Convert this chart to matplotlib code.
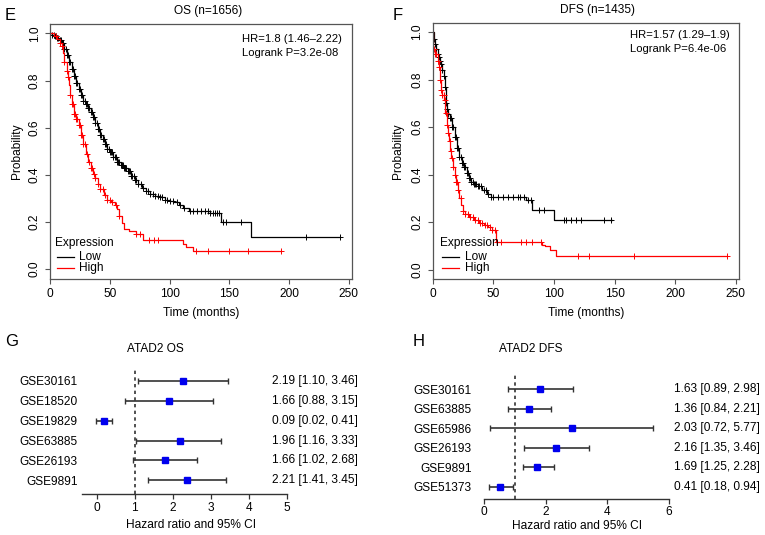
import numpy as np
import matplotlib
matplotlib.use('Agg')
import matplotlib.pyplot as plt
from matplotlib.lines import Line2D

plt.rcParams['font.family'] = ['Liberation Sans', 'DejaVu Sans']

# ---------------- DATA ----------------
# Panel E: OS (n=1656)
os_low_t = [0, 2, 4, 6, 8, 10, 12, 14, 16, 18, 20, 22, 24, 26, 28, 30, 32, 34, 36, 38, 40, 42, 44, 46,
            48, 50, 53, 56, 59, 62, 65, 68, 71, 74, 77, 80, 84, 88, 92, 96, 100, 104, 108, 111, 116,
            125, 134, 143, 168, 243]
os_low_s = [1.0, 0.995, 0.99, 0.98, 0.97, 0.96, 0.935, 0.91, 0.88, 0.85, 0.82, 0.79, 0.765, 0.74, 0.715,
            0.70, 0.685, 0.665, 0.645, 0.62, 0.595, 0.57, 0.55, 0.53, 0.51, 0.497, 0.475, 0.455, 0.44,
            0.43, 0.415, 0.395, 0.38, 0.36, 0.343, 0.33, 0.32, 0.312, 0.305, 0.295, 0.29, 0.285, 0.27,
            0.258, 0.248, 0.245, 0.238, 0.20, 0.134, 0.134]
os_low_cens = [2, 3, 4, 5, 6, 7, 8, 9, 10, 11, 12, 13, 14, 15, 16, 17, 18, 19, 20, 21, 22, 23, 24, 25, 26,
               27, 28, 29, 30, 31, 32, 33, 34, 35, 36, 37, 38, 39, 40, 41, 42, 43, 44, 45, 46, 47, 48, 49,
               50, 51, 52, 53, 54, 55, 56, 57, 58, 59, 60, 61, 62, 63, 64, 65, 66, 67, 68, 69, 70, 71, 72,
               74, 76, 78, 80, 82, 84, 86, 88, 90, 92, 94, 96, 98, 100, 103, 106, 109, 112, 117, 120, 123,
               126, 130, 132, 134, 136, 138, 140, 141, 145, 147, 160, 214, 243]
os_high_t = [0, 3, 6, 8, 10, 11, 12, 14, 15, 16, 17, 18, 20, 22, 24, 26, 28, 30, 32, 34, 36, 38, 40, 42,
             45, 48, 51, 54, 56, 58, 60, 62, 66, 72, 78, 111, 114, 120, 193]
os_high_s = [1.0, 0.99, 0.975, 0.96, 0.945, 0.915, 0.88, 0.84, 0.815, 0.78, 0.74, 0.70, 0.66, 0.635,
             0.61, 0.57, 0.53, 0.49, 0.455, 0.43, 0.405, 0.385, 0.36, 0.34, 0.315, 0.295, 0.285, 0.27,
             0.255, 0.225, 0.195, 0.17, 0.163, 0.149, 0.125, 0.106, 0.092, 0.078, 0.078]
os_high_cens = [5, 8, 10, 12, 14, 15, 17, 18, 19, 20, 21, 22, 23, 24, 25, 26, 27, 28, 29, 31, 33, 34, 35,
                37, 38, 40, 42, 44, 46, 48, 50, 52, 55, 58, 72, 75, 83, 87, 90, 122, 132, 150, 166, 193]

# Panel F: DFS (n=1435)
dfs_low_t = [0, 1, 2, 3, 4, 5, 6, 7, 8, 9, 10, 11, 12, 13, 14, 16, 18, 20, 22, 24, 26, 28, 30, 32, 34,
             37, 41, 45, 48, 77, 82, 100, 148]
dfs_low_s = [1.0, 0.97, 0.95, 0.93, 0.91, 0.895, 0.88, 0.865, 0.84, 0.815, 0.77, 0.70, 0.675, 0.655,
             0.64, 0.60, 0.56, 0.51, 0.475, 0.45, 0.43, 0.405, 0.385, 0.37, 0.36, 0.35, 0.336, 0.32,
             0.307, 0.293, 0.251, 0.209, 0.209]
dfs_low_cens = [1, 2, 3, 4, 5, 6, 7, 8, 9, 10, 11, 12, 13, 14, 15, 16, 17, 18, 19, 20, 21, 22, 23, 24,
                25, 26, 27, 28, 29, 30, 31, 32, 33, 34, 35, 36, 37, 38, 40, 42, 44, 46, 48, 50, 54, 58,
                62, 66, 70, 72, 75, 79, 81, 88, 92, 108, 110, 114, 118, 122, 141, 147]
dfs_high_t = [0, 0.3, 2, 4, 5, 6, 7, 8, 9.5, 10.5, 11.5, 12.5, 13.5, 14.5, 15.5, 17, 18, 19, 20.5, 22,
              23.5, 25, 27, 30, 34, 38, 42, 46, 49, 52, 90, 93, 97, 102, 243]
dfs_high_s = [1.0, 0.93, 0.91, 0.88, 0.855, 0.80, 0.757, 0.735, 0.715, 0.66, 0.61, 0.575, 0.54, 0.50,
              0.47, 0.43, 0.40, 0.37, 0.336, 0.30, 0.27, 0.245, 0.235, 0.223, 0.21, 0.195, 0.188, 0.178,
              0.167, 0.118, 0.105, 0.097, 0.083, 0.057, 0.057]
dfs_high_cens = [1, 2, 3, 4, 5, 6, 7, 8, 9, 10, 11, 12, 13, 14, 15, 16, 17, 18, 19, 20, 21, 23, 25, 27,
                 29, 31, 33, 35, 37, 39, 41, 43, 45, 47, 49, 51, 53, 56, 73, 77, 82, 89, 120, 129, 166, 243]

km_xticks = [0, 50, 100, 150, 200, 250]
km_yticks = [0.0, 0.2, 0.4, 0.6, 0.8, 1.0]

# Panel G: ATAD2 OS forest
g_names = ['GSE30161', 'GSE18520', 'GSE19829', 'GSE63885', 'GSE26193', 'GSE9891']
g_hr = [2.26, 1.91, 0.18, 2.18, 1.80, 2.37]
g_lo = [1.07, 0.75, -0.02, 1.04, 0.95, 1.34]
g_hi = [3.46, 3.07, 0.40, 3.26, 2.65, 3.41]
g_text = ['2.19 [1.10, 3.46]', '1.66 [0.88, 3.15]', '0.09 [0.02, 0.41]',
          '1.96 [1.16, 3.33]', '1.66 [1.02, 2.68]', '2.21 [1.41, 3.45]']
g_xticks = [0, 1, 2, 3, 4, 5]

# Panel H: ATAD2 DFS forest
h_names = ['GSE30161', 'GSE63885', 'GSE65986', 'GSE26193', 'GSE9891', 'GSE51373']
h_hr = [1.82, 1.47, 2.85, 2.33, 1.73, 0.52]
h_lo = [0.77, 0.77, 0.20, 1.30, 1.27, 0.14]
h_hi = [2.90, 2.16, 5.49, 3.40, 2.26, 0.94]
h_text = ['1.63 [0.89, 2.98]', '1.36 [0.84, 2.21]', '2.03 [0.72, 5.77]',
          '2.16 [1.35, 3.46]', '1.69 [1.25, 2.28]', '0.41 [0.18, 0.94]']
h_xticks = [0, 2, 4, 6]

# ---------------- FIGURE ----------------
W, H = 765, 535
fig = plt.figure(figsize=(W / 100, H / 100), dpi=100)
FS = 8.6
GRAY = '#555555'


def fx(x):
    return x / W


def fy(y):
    return 1 - y / H


def add_ax(l, t, r, b):
    return fig.add_axes([l / W, 1 - b / H, (r - l) / W, (b - t) / H])


def km_panel(ax, curves):
    for t, s, cens, col in curves:
        t = np.asarray(t, float)
        s = np.asarray(s, float)
        ax.step(t, s, where='post', color=col, lw=0.9)
        c = np.asarray(cens, float)
        idx = np.searchsorted(t, c, side='right') - 1
        ax.plot(c, s[idx], '+', color=col, ms=5, mew=0.7, ls='none')
    ax.set_xlim(0, 252.7)
    ax.set_ylim(-0.04, 1.04)
    ax.set_xticks(km_xticks)
    ax.set_xticklabels([str(v) for v in km_xticks], fontsize=FS)
    ax.set_yticks(km_yticks)
    ax.set_yticklabels(['%.1f' % v for v in km_yticks], rotation=90, va='center', fontsize=FS)
    for sp in ax.spines.values():
        sp.set_color(GRAY)
        sp.set_linewidth(0.9)
    ax.tick_params(direction='out', length=3.6, width=0.8, color=GRAY, pad=3)


def legend_block(x0, ytitle, ylow, yhigh):
    fig.text(fx(x0), fy(ytitle), 'Expression', ha='left', va='center', fontsize=FS)
    for yy, col, lab in [(ylow, 'black', 'Low'), (yhigh, 'red', 'High')]:
        fig.add_artist(Line2D([fx(x0 + 2), fx(x0 + 19)], [fy(yy), fy(yy)], color=col, lw=0.9,
                              transform=fig.transFigure))
        fig.text(fx(x0 + 25), fy(yy), lab, ha='left', va='center', fontsize=FS)


# Panel E
axE = add_ax(50, 24, 352, 278.5)
km_panel(axE, [(os_low_t, os_low_s, os_low_cens, 'black'),
               (os_high_t, os_high_s, os_high_cens, 'red')])
fig.text(fx(10), fy(16), 'E', fontsize=12, ha='center', va='center')
fig.text(fx(208), fy(11), 'OS (n=1656)', fontsize=FS, ha='center', va='center')
fig.text(fx(242), fy(39.5), 'HR=1.8 (1.46\u20132.22)', fontsize=8.1, ha='left', va='center')
fig.text(fx(242), fy(53.5), 'Logrank P=3.2e-08', fontsize=8.1, ha='left', va='center')
fig.text(fx(16.7), fy(151), 'Probability', rotation=90, fontsize=FS, ha='center', va='center')
fig.text(fx(201), fy(313), 'Time (months)', fontsize=FS, ha='center', va='center')
legend_block(54.5, 242.7, 256.7, 268.3)

# Panel F
axF = add_ax(432.7, 22.7, 739, 279)
km_panel(axF, [(dfs_low_t, dfs_low_s, dfs_low_cens, 'black'),
               (dfs_high_t, dfs_high_s, dfs_high_cens, 'red')])
fig.text(fx(398), fy(15), 'F', fontsize=12, ha='center', va='center')
fig.text(fx(597.5), fy(10), 'DFS (n=1435)', fontsize=FS, ha='center', va='center')
fig.text(fx(630), fy(34.5), 'HR=1.57 (1.29\u20131.9)', fontsize=8.1, ha='left', va='center')
fig.text(fx(630), fy(49.5), 'Logrank P=6.4e-06', fontsize=8.1, ha='left', va='center')
fig.text(fx(398), fy(151), 'Probability', rotation=90, fontsize=FS, ha='center', va='center')
fig.text(fx(586), fy(313), 'Time (months)', fontsize=FS, ha='center', va='center')
legend_block(440, 242.7, 256.7, 268.3)


def forest(ax, names, hr, lo, hi, texts, xlim, xticks, ylim, text_x, label_pad):
    n = len(names)
    y = np.arange(n, 0, -1)
    hr = np.asarray(hr)
    lo = np.asarray(lo)
    hi = np.asarray(hi)
    ax.errorbar(hr, y, xerr=[hr - lo, hi - hr], fmt='none', ecolor='#333333',
                elinewidth=1.2, capsize=2.2, capthick=1.0)
    ax.plot(hr, y, 's', color='#0000ee', ms=4.8, ls='none', zorder=3)
    ax.axvline(1, color='#333333', lw=1.2, ls=(0, (2, 2)))
    ax.set_xlim(*xlim)
    ax.set_ylim(*ylim)
    ax.set_xticks(xticks)
    ax.set_xticklabels([str(v) for v in xticks], fontsize=FS)
    ax.set_yticks(y)
    ax.set_yticklabels(names, fontsize=FS)
    ax.tick_params(axis='y', length=0, pad=label_pad)
    ax.tick_params(axis='x', direction='out', length=3.6, width=0.9, color='#333333', pad=2)
    for k in ['top', 'right', 'left']:
        ax.spines[k].set_visible(False)
    ax.spines['bottom'].set_color('#333333')
    ax.spines['bottom'].set_linewidth(1.0)
    for yy, tx in zip(y, texts):
        ax.text(text_x, yy, tx, ha='right', va='center', fontsize=FS, clip_on=False)


# Panel G
axG = add_ax(81.7, 368, 286.7, 494)
forest(axG, g_names, g_hr, g_lo, g_hi, g_text, (-0.4, 5), g_xticks, (0.31, 6.65), 6.88, 2.9)
fig.text(fx(12), fy(342), 'G', fontsize=12, ha='center', va='center')
fig.text(fx(155), fy(349), 'ATAD2 OS', fontsize=FS, ha='center', va='center')
fig.text(fx(191), fy(525), 'Hazard ratio and 95% CI', fontsize=FS, ha='center', va='center')

# Panel H
axH = add_ax(484.3, 375, 668.7, 498.7)
forest(axH, h_names, h_hr, h_lo, h_hi, h_text, (0, 6), h_xticks, (0.386, 6.72), 8.98, 9.0)
fig.text(fx(419), fy(342), 'H', fontsize=12, ha='center', va='center')
fig.text(fx(531), fy(349), 'ATAD2 DFS', fontsize=FS, ha='center', va='center')
fig.text(fx(577), fy(526), 'Hazard ratio and 95% CI', fontsize=FS, ha='center', va='center')

fig.savefig('out.png', dpi=100)
